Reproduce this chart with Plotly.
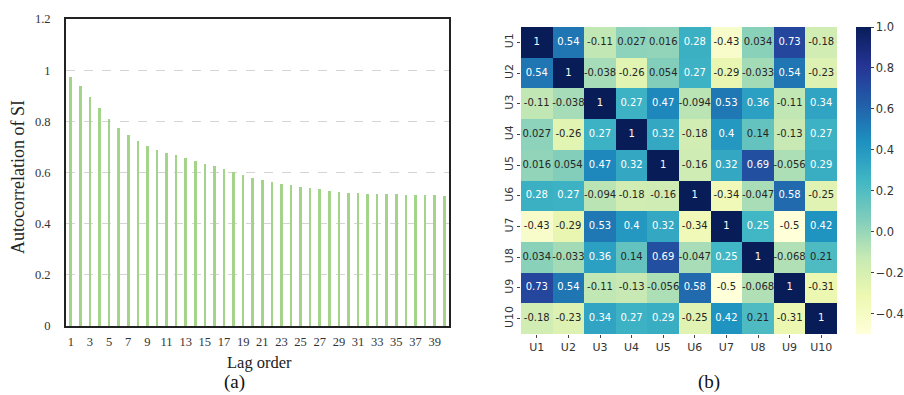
import plotly.graph_objects as go

W, H = 904, 395

# ---------------- data ----------------
lags = list(range(1, 41))
acf_si = [0.972, 0.937, 0.895, 0.851, 0.810, 0.775, 0.747, 0.722, 0.704, 0.689,
          0.678, 0.667, 0.656, 0.646, 0.635, 0.624, 0.613, 0.601, 0.589, 0.580,
          0.571, 0.563, 0.555, 0.550, 0.543, 0.538, 0.534, 0.529, 0.524, 0.521,
          0.519, 0.516, 0.515, 0.515, 0.515, 0.514, 0.513, 0.513, 0.513, 0.509]
y_ticks = [0, 0.2, 0.4, 0.6, 0.8, 1.0, 1.2]

units = ["U1", "U2", "U3", "U4", "U5", "U6", "U7", "U8", "U9", "U10"]
corr_text = [
    ["1", "0.54", "-0.11", "0.027", "0.016", "0.28", "-0.43", "0.034", "0.73", "-0.18"],
    ["0.54", "1", "-0.038", "-0.26", "0.054", "0.27", "-0.29", "-0.033", "0.54", "-0.23"],
    ["-0.11", "-0.038", "1", "0.27", "0.47", "-0.094", "0.53", "0.36", "-0.11", "0.34"],
    ["0.027", "-0.26", "0.27", "1", "0.32", "-0.18", "0.4", "0.14", "-0.13", "0.27"],
    ["0.016", "0.054", "0.47", "0.32", "1", "-0.16", "0.32", "0.69", "-0.056", "0.29"],
    ["0.28", "0.27", "-0.094", "-0.18", "-0.16", "1", "-0.34", "-0.047", "0.58", "-0.25"],
    ["-0.43", "-0.29", "0.53", "0.4", "0.32", "-0.34", "1", "0.25", "-0.5", "0.42"],
    ["0.034", "-0.033", "0.36", "0.14", "0.69", "-0.047", "0.25", "1", "-0.068", "0.21"],
    ["0.73", "0.54", "-0.11", "-0.13", "-0.056", "0.58", "-0.5", "-0.068", "1", "-0.31"],
    ["-0.18", "-0.23", "0.34", "0.27", "0.29", "-0.25", "0.42", "0.21", "-0.31", "1"],
]
corr = [[float(v) for v in row] for row in corr_text]
cbar_vals = [1.0, 0.8, 0.6, 0.4, 0.2, 0.0, -0.2, -0.4]
cbar_text = ["1.0", "0.8", "0.6", "0.4", "0.2", "0.0", "\u22120.2", "\u22120.4"]

# ---------------- helpers ----------------
def px_x(x):
    return x / W

def px_y(y):
    return 1 - y / H

ylgnbu = [
    [0.0, "#ffffd9"], [0.125, "#edf8b1"], [0.25, "#c7e9b4"], [0.375, "#7fcdbb"],
    [0.5, "#41b6c4"], [0.625, "#1d91c0"], [0.75, "#225ea8"], [0.875, "#253494"],
    [1.0, "#081d58"],
]

SERIF = "Liberation Serif, Times New Roman, serif"
SANS = "DejaVu Sans, sans-serif"

fig = go.Figure()

# ---------------- (a) bar chart ----------------
fig.add_trace(go.Bar(
    x=lags, y=acf_si, width=0.27,
    marker=dict(color="#a3d48a", line=dict(width=0)),
    xaxis="x", yaxis="y", showlegend=False,
))

# ---------------- (b) heatmap ----------------
fig.add_trace(go.Heatmap(
    z=corr, x=units, y=units,
    colorscale=ylgnbu, zmin=-0.5, zmax=1.0,
    xaxis="x2", yaxis="y2", xgap=0, ygap=0,
    colorbar=dict(
        x=px_x(856), xanchor="left", xref="paper",
        y=px_y((27 + 334) / 2), yanchor="middle", yref="paper",
        len=(334 - 27) / H, lenmode="fraction",
        thickness=15, thicknessmode="pixels",
        xpad=0, ypad=0,
        outlinewidth=0,
        tickvals=cbar_vals, ticktext=cbar_text,
        ticks="outside", ticklen=3, tickcolor="#444",
        tickfont=dict(family=SANS, size=11.5, color="#333"),
    ),
    hoverinfo="skip",
))

# cell annotations as a text scatter
tx, ty, tt, tc = [], [], [], []
for i, rname in enumerate(units):
    for j, cname in enumerate(units):
        tx.append(cname)
        ty.append(rname)
        tt.append(corr_text[i][j])
        tc.append("white" if corr[i][j] >= 0.23 else "#262626")
fig.add_trace(go.Scatter(
    x=tx, y=ty, text=tt, mode="text",
    textfont=dict(family=SANS, size=10, color=tc),
    xaxis="x2", yaxis="y2", showlegend=False, hoverinfo="skip",
))

fig.update_layout(
    width=W, height=H,
    margin=dict(l=0, r=0, t=0, b=0, autoexpand=False),
    paper_bgcolor="white", plot_bgcolor="white",
    bargap=0,
    xaxis=dict(
        domain=[px_x(66), px_x(449)],
        range=[0.5, 40.5],
        tick0=1, dtick=2,
        showgrid=False, zeroline=False,
        showline=True, mirror=True, linecolor="#222", linewidth=2,
        ticks="", ticklabelstandoff=3,
        tickfont=dict(family=SERIF, size=12.5, color="#333"),
        anchor="y",
    ),
    yaxis=dict(
        domain=[px_y(326), px_y(19)],
        range=[0, 1.2],
        tickvals=y_ticks,
        showgrid=True, gridcolor="#d4d4d4", griddash="dash", gridwidth=1,
        zeroline=False,
        showline=True, mirror=True, linecolor="#222", linewidth=2,
        ticks="", ticklabelstandoff=11,
        tickfont=dict(family=SERIF, size=12.5, color="#333"),
        anchor="x",
    ),
    xaxis2=dict(
        domain=[px_x(521), px_x(837)],
        showgrid=False, zeroline=False, showline=False,
        ticks="outside", ticklen=3, tickcolor="#444",
        tickfont=dict(family=SANS, size=11, color="#333"),
        anchor="y2",
    ),
    yaxis2=dict(
        domain=[px_y(334), px_y(27)],
        autorange="reversed",
        showgrid=False, zeroline=False, showline=False,
        ticks="outside", ticklen=3, tickcolor="#444",
        tickangle=-90,
        tickfont=dict(family=SANS, size=11, color="#333"),
        anchor="x2",
    ),
    annotations=[
        dict(text="Autocorrelation of SI", x=px_x(18), y=px_y(177), xref="paper", yref="paper",
             textangle=-90, showarrow=False, xanchor="center", yanchor="middle",
             font=dict(family=SERIF, size=18, color="#222")),
        dict(text="Lag order", x=px_x(259), y=px_y(362), xref="paper", yref="paper",
             showarrow=False, xanchor="center", yanchor="middle",
             font=dict(family=SERIF, size=16.5, color="#222")),
        dict(text="(a)", x=px_x(234), y=px_y(382), xref="paper", yref="paper",
             showarrow=False, xanchor="center", yanchor="middle",
             font=dict(family=SERIF, size=19, color="#111")),
        dict(text="(b)", x=px_x(709), y=px_y(382), xref="paper", yref="paper",
             showarrow=False, xanchor="center", yanchor="middle",
             font=dict(family=SERIF, size=19, color="#111")),
    ],
)

fig.write_html(
    "out.html",
    config={"displayModeBar": False},
    post_script="document.body.style.margin='0';document.body.style.overflow='hidden';",
)
